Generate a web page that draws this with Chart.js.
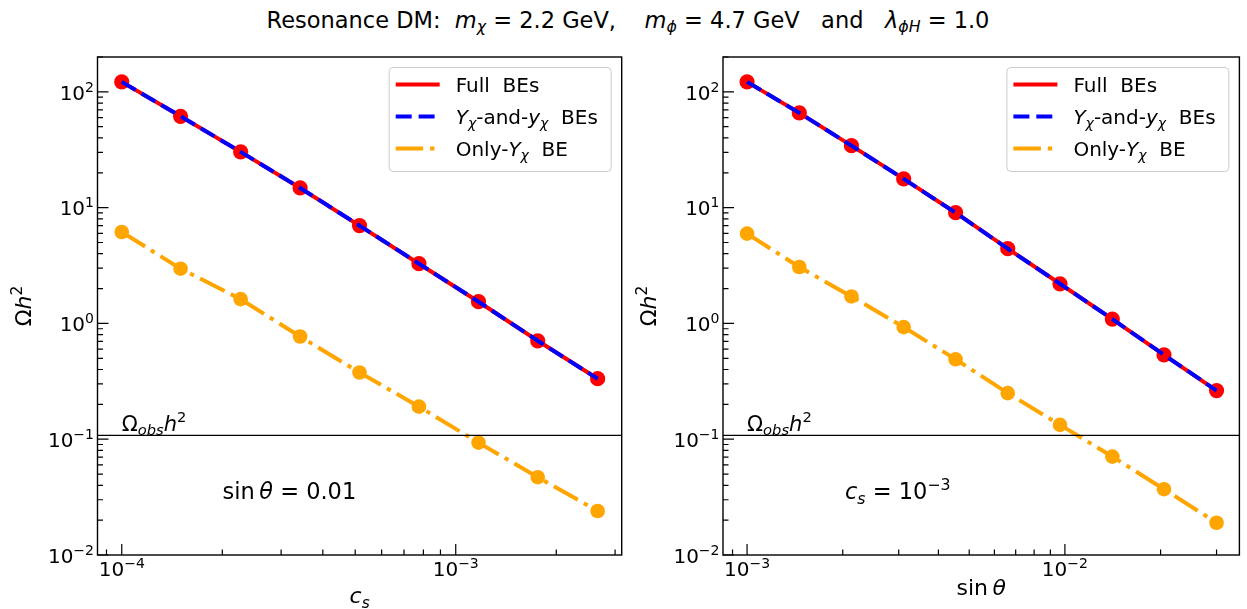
<!DOCTYPE html>
<html>
<head>
<meta charset="utf-8">
<script src="https://cdn.jsdelivr.net/npm/chart.js@4.4.1/dist/chart.umd.min.js"></script>
<style>
  html, body { margin: 0; padding: 0; background: #fff; }
  body { width: 1247px; height: 609px; position: relative; overflow: hidden; font-family: "DejaVu Sans", sans-serif; }
  #title { position: absolute; left: 0; top: 7.5px; width: 1256px; text-align: center; font-size: 22.5px; line-height: 24px; white-space: pre; color: #000; }
  #title i { font-style: italic; }
  #title sub { font-size: 0.7em; vertical-align: -0.24em; line-height: 0; }
  canvas { position: absolute; top: 0; }
  #left { left: 0; }
  #right { left: 630px; }
</style>
</head>
<body>
<div id="title">Resonance DM:  <i>m</i><sub><i>χ</i></sub> = 2.2 GeV,    <i>m</i><sub><i>ϕ</i></sub> = 4.7 GeV   and   <i>λ</i><sub><i>ϕH</i></sub> = 1.0</div>
<canvas id="left" width="630" height="609"></canvas>
<canvas id="right" width="617" height="609"></canvas>
<script>
// ---- values ----
// left panel: scan over c_s at sin(theta) = 0.01
const csValues      = [1.0e-4, 1.5e-4, 2.27e-4, 3.42e-4, 5.15e-4, 7.76e-4, 1.17e-3, 1.76e-3, 2.66e-3];
const csFullBEs     = [122, 61.5, 30.3, 14.8, 7.0, 3.28, 1.54, 0.708, 0.333];
const csTwoBEs      = [122, 61.5, 30.3, 14.8, 7.0, 3.28, 1.54, 0.708, 0.333];
const csOnlyY       = [6.16, 2.97, 1.62, 0.771, 0.377, 0.191, 0.0935, 0.047, 0.024];

// right panel: scan over sin(theta) at c_s = 1e-3
const sinValues     = [1.0e-3, 1.46e-3, 2.13e-3, 3.11e-3, 4.53e-3, 6.61e-3, 9.65e-3, 1.41e-2, 2.05e-2, 3.0e-2];
const sinFullBEs    = [122, 65.8, 34.3, 17.7, 9.04, 4.42, 2.2, 1.09, 0.536, 0.263];
const sinTwoBEs     = [122, 65.8, 34.3, 17.7, 9.04, 4.42, 2.2, 1.09, 0.536, 0.263];
const sinOnlyY      = [5.96, 3.07, 1.71, 0.93, 0.49, 0.25, 0.133, 0.0708, 0.037, 0.019];

// observed relic abundance
const omegaObs = 0.108;

// axis ranges and tick labels (powers of ten)
const yMin = 0.01, yMax = 200;
const yTickExps = [-2, -1, 0, 1, 2];
const csMin = 8.46e-5, csMax = 3.14e-3;
const csTickExps = [-4, -3];
const sinMin = 8.40e-4, sinMax = 3.54e-2;
const sinTickExps = [-3, -2];

// ---- rich text helpers (italic, sub- and superscripts) ----
const FAMILY = '"DejaVu Sans", sans-serif';
const R = t => ({ t });
const I = t => ({ t, i: true });
const SUB = (t, i) => ({ t, i, s: 'sub' });
const SUP = t => ({ t, s: 'sup' });
function fnt(size, italic) { return (italic ? 'italic ' : '') + size + 'px ' + FAMILY; }
function segMetric(g, size) {
  return {
    s: g.s ? size * 0.7 : size,
    dy: g.s === 'sub' ? size * 0.22 : g.s === 'sup' ? -size * 0.4 : 0
  };
}
function richWidth(ctx, segs, size) {
  let w = 0;
  for (const g of segs) { const m = segMetric(g, size); ctx.font = fnt(m.s, g.i); w += ctx.measureText(g.t).width; }
  return w;
}
function drawRich(ctx, segs, x, y, size, align) {
  const w = richWidth(ctx, segs, size);
  let cx = align === 'center' ? x - w / 2 : align === 'right' ? x - w : x;
  ctx.textAlign = 'left';
  ctx.textBaseline = 'alphabetic';
  for (const g of segs) {
    const m = segMetric(g, size);
    ctx.font = fnt(m.s, g.i);
    ctx.fillText(g.t, cx, y + m.dy);
    cx += ctx.measureText(g.t).width;
  }
}
function powLabel(e) { return [R('10'), SUP((e < 0 ? '\u2212' : '') + Math.abs(e))]; }

// legend entries
const legendLabels = [
  [R('Full  BEs')],
  [I('Y'), SUB('χ', true), R('-and-'), I('y'), SUB('χ', true), R('  BEs')],
  [R('Only-'), I('Y'), SUB('χ', true), R('  BE')]
];
const yAxisTitle = [R('Ω'), I('h'), SUP('2')];

// frame, inward ticks, labels, reference line, notes and legend
const panelDecor = {
  id: 'panelDecor',
  afterDatasetsDraw(chart, args, o) {
    const { ctx, chartArea: a } = chart;
    const sx = chart.scales.x, sy = chart.scales.y;
    ctx.save();
    ctx.setLineDash([]);
    ctx.strokeStyle = '#000';
    ctx.fillStyle = '#000';

    // observed abundance line
    const yo = sy.getPixelForValue(omegaObs);
    ctx.lineWidth = 1.4;
    ctx.beginPath(); ctx.moveTo(a.left, yo); ctx.lineTo(a.right, yo); ctx.stroke();
    drawRich(ctx, [R('Ω'), SUB('obs', true), I('h'), SUP('2')], sx.getPixelForValue(o.xFirst), yo - 4.5, 21, 'left');

    // log ticks, pointing inward
    ctx.lineWidth = 1.2;
    const tickRun = (scale, cb) => {
      const lo = Math.floor(Math.log10(scale.min)), hi = Math.ceil(Math.log10(scale.max));
      for (let e = lo; e <= hi; e++) {
        for (let k = 1; k <= 9; k++) {
          const v = k * Math.pow(10, e);
          if (v < scale.min * 0.9999 || v > scale.max * 1.0001) continue;
          cb(scale.getPixelForValue(v), k === 1 ? 11 : 5.5);
        }
      }
    };
    ctx.beginPath();
    tickRun(sx, (p, len) => { ctx.moveTo(p, a.bottom); ctx.lineTo(p, a.bottom - len); });
    tickRun(sy, (p, len) => { ctx.moveTo(a.left, p); ctx.lineTo(a.left + len, p); });
    ctx.stroke();

    // frame
    ctx.lineWidth = 1.4;
    ctx.strokeRect(a.left, a.top, a.right - a.left, a.bottom - a.top);

    // tick labels
    for (const e of o.xTickExps) drawRich(ctx, powLabel(e), sx.getPixelForValue(Math.pow(10, e)), a.bottom + 21, 20, 'center');
    for (const e of yTickExps) drawRich(ctx, powLabel(e), a.left - 3.5, sy.getPixelForValue(Math.pow(10, e)) + 7.7, 20, 'right');

    // axis titles
    drawRich(ctx, o.xTitle, (a.left + a.right) / 2, o.xTitleBaseline, 22, 'center');
    ctx.save();
    ctx.translate(a.left - 67, (a.top + a.bottom) / 2);
    ctx.rotate(-Math.PI / 2);
    drawRich(ctx, yAxisTitle, 0, 0, 22, 'center');
    ctx.restore();

    // parameter note
    drawRich(ctx, o.note, a.left + o.noteDx, a.bottom - 56, 22.5, 'left');

    // legend
    const bw = 222, bh = 104;
    const bx = a.right - 10.5 - bw, by = a.top + 10.5;
    ctx.beginPath();
    ctx.roundRect(bx, by, bw, bh, 4);
    ctx.fillStyle = 'rgba(255,255,255,0.8)';
    ctx.fill();
    ctx.strokeStyle = '#cccccc';
    ctx.lineWidth = 1;
    ctx.stroke();
    const order = [0, 1, 2];
    order.forEach((di, row) => {
      const ds = chart.data.datasets[di];
      const ry = by + 17 + row * 32;
      ctx.beginPath();
      ctx.strokeStyle = ds.borderColor;
      ctx.lineWidth = ds.borderWidth;
      ctx.setLineDash(ds.borderDash || []);
      ctx.lineCap = 'butt';
      ctx.moveTo(bx + 6.5, ry); ctx.lineTo(bx + 50.5, ry);
      ctx.stroke();
      ctx.setLineDash([]);
      ctx.fillStyle = '#000';
      drawRich(ctx, legendLabels[di], bx + 66.5, ry + 7.5, 20, 'left');
    });
    ctx.restore();
  }
};

function series(xs, ys) { return xs.map((x, i) => ({ x, y: ys[i] })); }

function makePanel(id, p) {
  return new Chart(document.getElementById(id), {
    type: 'line',
    data: {
      datasets: [
        { label: 'Full BEs', data: series(p.xs, p.full), borderColor: '#ff0000', backgroundColor: '#ff0000',
          borderWidth: 4, pointRadius: 7.6, pointBorderWidth: 0, pointBackgroundColor: '#ff0000', order: 1 },
        { label: 'Y-and-y BEs', data: series(p.xs, p.two), borderColor: '#0000ff', backgroundColor: '#0000ff',
          borderWidth: 4, borderDash: [16, 6.9], pointRadius: 0, order: 0 },
        { label: 'Only-Y BE', data: series(p.xs, p.only), borderColor: '#ffa500', backgroundColor: '#ffa500',
          borderWidth: 4, borderDash: [27.5, 6.9, 4.3, 6.9], pointRadius: 7.3, pointBorderWidth: 0, pointBackgroundColor: '#ffa500', order: 2 }
      ]
    },
    options: {
      responsive: false,
      animation: false,
      events: [],
      layout: { padding: { left: 0, top: 57, right: p.padRight, bottom: 0 } },
      elements: { line: { tension: 0, borderCapStyle: 'butt' } },
      scales: {
        x: {
          type: 'logarithmic', min: p.xMin, max: p.xMax,
          ticks: { display: false }, grid: { display: false }, border: { display: false },
          afterFit(s) { s.height = 54; }
        },
        y: {
          type: 'logarithmic', min: yMin, max: yMax,
          ticks: { display: false }, grid: { display: false }, border: { display: false },
          afterFit(s) { s.width = p.yWidth; }
        }
      },
      plugins: {
        legend: { display: false },
        tooltip: { enabled: false },
        panelDecor: {
          xFirst: p.xs[0], xTickExps: p.xTickExps, xTitle: p.xTitle, xTitleBaseline: p.xTitleBaseline,
          note: p.note, noteDx: p.noteDx
        }
      }
    },
    plugins: [panelDecor]
  });
}

makePanel('left', {
  xs: csValues, full: csFullBEs, two: csTwoBEs, only: csOnlyY,
  xMin: csMin, xMax: csMax, xTickExps: csTickExps,
  xTitle: [I('c'), SUB('s', true)], xTitleBaseline: 603,
  note: [R('sin'), I('\u2009θ'), R(' = 0.01')], noteDx: 125,
  padRight: 8.3, yWidth: 97.5
});
makePanel('right', {
  xs: sinValues, full: sinFullBEs, two: sinTwoBEs, only: sinOnlyY,
  xMin: sinMin, xMax: sinMax, xTickExps: sinTickExps,
  xTitle: [R('sin'), I('\u2009θ')], xTitleBaseline: 595,
  note: [I('c'), SUB('s', true), R(' = 10'), SUP('\u22123')], noteDx: 122,
  padRight: 1, yWidth: 93
});
</script>
</body>
</html>
